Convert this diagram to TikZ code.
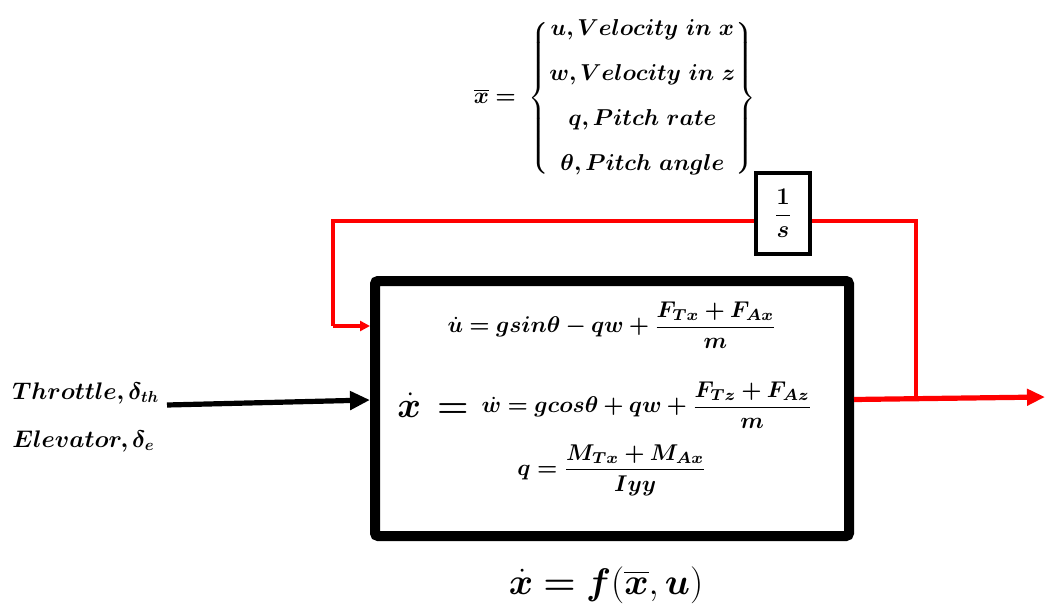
\documentclass[tikz,border=0pt]{standalone}
\usepackage{fix-cm}
\usepackage{amsmath,amssymb,bm}
\usepackage{xcolor}
\usetikzlibrary{positioning, arrows.meta, calc}

\begin{document}
\begin{tikzpicture}[
  x=0.5pt, y=-0.5pt,
  eq/.style={font=\fontsize{#1}{#1}\selectfont, inner sep=1pt},
  eq/.default=12,
  sig/.style={red, line width=1.6pt},
  sigout/.style={red, line width=2.6pt, -{Triangle[length=9pt, width=8pt]}},
]
\useasboundingbox (0,0) rectangle (1045,610);

% ── blocks ──
\node[draw, line width=5pt, rounded corners=1.5pt, minimum width=237pt, minimum height=127.5pt] (plant) at (612,408.5) {};
\node[draw, line width=1.6pt, minimum width=27pt, minimum height=40.5pt, inner sep=0pt] (integ) at (783,213.5) {};
\node[eq=12] at (integ) {$\dfrac{\bm 1}{\bm s}$};

% ── equations in the plant ──
\node[eq=18] (xdot) at (433,405) {$\dot{\bm x}\,\bm=$};
\node[eq=11.4] (equ) at (612,325) {$\dot{\bm u}\bm{=gsin\theta-qw+}\dfrac{\bm{F_{Tx}+F_{Ax}}}{\bm m}$};
\node[eq=11.4] (eqw) at (647,405) {$\dot{\bm w}\bm{=gcos\theta+qw+}\dfrac{\bm{F_{Tz}+F_{Az}}}{\bm m}$};
\node[eq=11.4] (eqq) at (612,470) {$\bm{q=}\dfrac{\bm{M_{Tx}+M_{Ax}}}{\bm{Iyy}}$};

% ── state vector ──
\node[eq=11.5] (xvec) at (615,98) {$\overline{\bm x}\bm=\;
  \left\{\begin{matrix}
    \bm{u,Velocity\ in\ x}\\[11pt]
    \bm{w,Velocity\ in\ z}\\[11pt]
    \bm{q,Pitch\ rate}\\[11pt]
    \bm{\theta,Pitch\ angle}
  \end{matrix}\right\}$};

% ── inputs ──
\node[eq=12, anchor=west] (thr) at (10,393) {$\bm{Throttle,\delta_{th}}$};
\node[eq=12, anchor=west] (elev) at (10,441) {$\bm{Elevator,\delta_e}$};
\coordinate (in) at (167,405);
\draw[line width=2.6pt, -{Triangle[length=10pt, width=9pt]}] (in) -- ([yshift=4.25pt]plant.west);

% ── output and feedback ──
\coordinate (out) at (1045,397);
\coordinate (br) at (916,399);
\coordinate (fb) at (333,326);
\draw[sigout] ([yshift=4.5pt]plant.east) -- (out);
\draw[sig] (br) |- ([yshift=-3.75pt]integ.east);
\draw[sig] ([yshift=-3.75pt]integ.west) -| (fb);
\draw[sig, -{Triangle[length=5pt, width=5pt]}] (fb) -- (plant.west |- fb);

% ── model ──
\node[eq=18.5] (model) at (606,585) {$\dot{\bm x}\bm=\bm f(\overline{\bm x},\bm u)$};
\end{tikzpicture}
\end{document}
